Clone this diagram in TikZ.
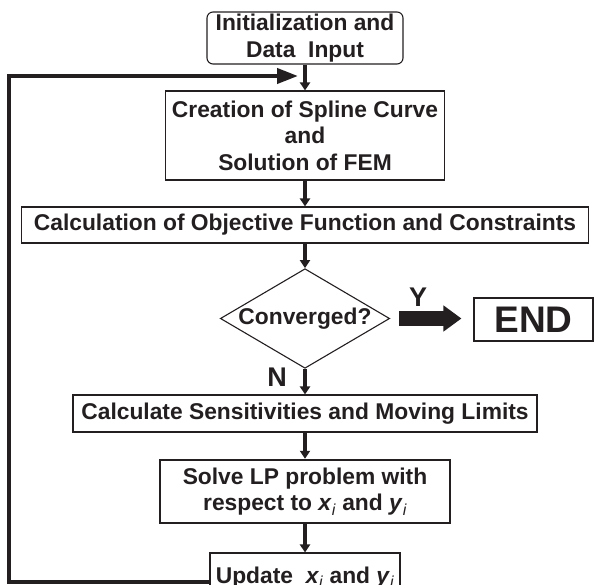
\documentclass[tikz,border=0pt]{standalone}
\usepackage{fontspec}
\setmainfont{Liberation Sans}
\usetikzlibrary{shapes.geometric,arrows.meta}
\definecolor{ink}{RGB}{35,31,32}
\newcommand{\varsub}[1]{\textit{#1}\textsubscript{\mdseries\itshape i}}

\begin{document}
\begin{tikzpicture}[x=1pt,y=-1pt,
	every node/.style={font=\fontsize{22.8}{26.5}\selectfont\bfseries,text=ink,align=center,inner sep=0pt},
	box/.style={draw=ink,line width=1.1pt},
	flow/.style={draw=ink,line width=3.2pt,-{Triangle[length=8pt,width=10pt]}},
	backline/.style={draw=ink,line width=4pt,-{Triangle[length=21pt,width=15pt]}},
	bigfont/.style={font=\fontsize{27}{30}\selectfont\bfseries}]
\useasboundingbox (0,0) rectangle (594,585);
\node[box,rounded corners=6pt,minimum width=196pt,minimum height=52pt] (init) at (305,38) {Initialization and\\Data\ \ Input};
\node[box,minimum width=279pt,minimum height=89pt] (spline) at (305,135.5) {Creation of Spline Curve\\and\\Solution of FEM};
\node[box,minimum width=567pt,minimum height=36pt] (objf) at (305,225) {Calculation of Objective Function and Constraints};
\node[box,diamond,aspect=1.7,minimum width=161pt,minimum height=95pt] (conv) at (305,318.5) {Converged?};
\node[box,minimum width=119pt,minimum height=43pt,font=\fontsize{37}{40}\selectfont\bfseries] (finish) at (533.5,319.5) {END};
\node[box,minimum width=464pt,minimum height=37pt] (sens) at (305,413.5) {Calculate Sensitivities and Moving Limits};
\node[box,line width=2.4pt,minimum width=290pt,minimum height=63pt] (lp) at (305,491.5) {Solve LP problem with\\respect to \varsub{x} and \varsub{y}};
\node[box,minimum width=190pt,minimum height=49pt] (upd) at (305,577.5) {Update\ \ \varsub{x} and \varsub{y}};
\node[bigfont] (ylab) at (418,297) {Y};
\node[bigfont] (nlab) at (277,377) {N};
\coordinate (fbcorner) at (9,76);
\coordinate (fbend) at (298,76);

\draw[flow] (init) -- (spline);
\draw[flow] (spline) -- (objf);
\draw[flow] (objf) -- (conv);
\draw[flow] (conv) -- (sens);
\draw[flow] (sens) -- (lp);
\draw[flow,line width=4.5pt] (lp) -- (upd);
\draw[draw=ink,line width=15pt,-{Triangle[length=18pt,width=25pt]}] ([xshift=9pt]conv.east) -- ([xshift=-12pt]conv.east -| finish.west);
\draw[backline] ([yshift=-4.5pt]upd.west) -| (fbcorner) -- (fbend);
\end{tikzpicture}
\end{document}
